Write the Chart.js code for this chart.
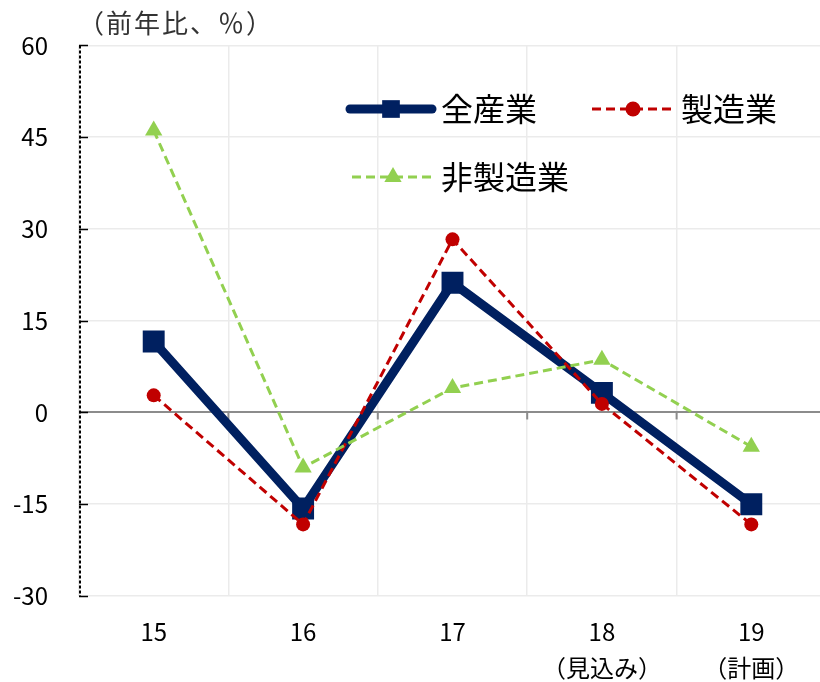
<!DOCTYPE html>
<html lang="ja">
<head>
<meta charset="utf-8">
<script src="https://cdn.jsdelivr.net/npm/chart.js@4.4.1/dist/chart.umd.min.js"></script>
<style>
  html, body { margin: 0; padding: 0; background: #fff; overflow: hidden; }
  canvas { display: block; }
</style>
</head>
<body>
<canvas id="chart" width="830" height="682"></canvas>
<script>
// data
const years = [['15'], ['16'], ['17'], ['18', '（見込み）'], ['19', '（計画）']];
const seriesNames = ['全産業', '製造業', '非製造業'];
const allIndustry = [11.6, -15.7, 21.2, 3.2, -15.0];
const manufacturing = [2.8, -18.3, 28.3, 1.4, -18.3];
const nonManufacturing = [46.1, -9.0, 4.0, 8.6, -5.6];
const yTicks = [-30, -15, 0, 15, 30, 45, 60];
const unitLabel = '（前年比、％）';

const FONT = '"Noto Sans CJK JP", "Noto Sans", sans-serif';
Chart.defaults.font.family = FONT;
Chart.defaults.color = '#000';

// where each legend entry sits (line start, row y, text x, marker radius)
const legendLayout = [
    { x: 350, y: 109, textX: 441, r: 12.5 },
    { x: 592, y: 109, textX: 681, r: 7.5 },
    { x: 352, y: 177, textX: 441, r: 10 }
];

const extras = {
    id: 'extras',
    beforeDatasetsDraw(chart) {
        const ctx = chart.ctx;
        const a = chart.chartArea;
        const x = chart.scales.x, y = chart.scales.y;
        ctx.save();
        // dashed y axis line
        ctx.strokeStyle = '#000';
        ctx.lineWidth = 2;
        ctx.setLineDash([3, 2]);
        ctx.beginPath();
        ctx.moveTo(a.left + 1, a.top);
        ctx.lineTo(a.left + 1, a.bottom);
        ctx.stroke();
        ctx.setLineDash([]);

        // inside tick marks on the y axis
        ctx.lineWidth = 1.5;
        y.ticks.forEach(function (t) {
            const py = Math.round(y.getPixelForValue(t.value)) + 0.5;
            ctx.beginPath();
            ctx.moveTo(a.left, py);
            ctx.lineTo(a.left + 9, py);
            ctx.stroke();
        });

        // small ticks hanging from the zero line
        const y0 = y.getPixelForValue(0);
        ctx.strokeStyle = '#8c8c8c';
        ctx.lineWidth = 2;
        for (let i = 1; i < x.ticks.length; i++) {
            const px = (x.getPixelForTick(i - 1) + x.getPixelForTick(i)) / 2;
            ctx.beginPath();
            ctx.moveTo(px, y0);
            ctx.lineTo(px, y0 + 7);
            ctx.stroke();
        }
        ctx.restore();
    },
    afterDraw(chart) {
        const ctx = chart.ctx;
        ctx.save();

        // unit label
        ctx.font = '26px ' + FONT;
        ctx.fillStyle = '#333';
        ctx.textAlign = 'left';
        ctx.textBaseline = 'middle';
        ctx.letterSpacing = '2px';
        ctx.fillText(unitLabel, 78, 23);
        ctx.letterSpacing = '0px';

        // legend: line sample + marker + name
        chart.data.datasets.forEach(function (ds, i) {
            const L = legendLayout[i];
            ctx.strokeStyle = ds.borderColor;
            ctx.lineWidth = ds.borderWidth;
            ctx.lineCap = ds.borderDash ? 'butt' : 'round';
            ctx.setLineDash(ds.borderDash || []);
            ctx.beginPath();
            ctx.moveTo(L.x, L.y);
            ctx.lineTo(L.x + 82, L.y);
            ctx.stroke();
            ctx.setLineDash([]);
            ctx.fillStyle = ds.pointBackgroundColor;
            Chart.helpers.drawPoint(ctx, { pointStyle: ds.pointStyle, radius: L.r, rotation: 0, borderWidth: 0 }, L.x + 41, L.y);
            ctx.fillStyle = '#000';
            ctx.font = '32px ' + FONT;
            ctx.fillText(ds.label, L.textX, L.y);
        });
        ctx.restore();
    }
};

const chart = new Chart(document.getElementById('chart'), {
    type: 'line',
    data: {
        labels: years,
        datasets: [
            {
                label: seriesNames[0],
                data: allIndustry,
                borderColor: '#002060',
                borderWidth: 9,
                pointStyle: 'rect',
                pointRadius: 15.5,
                pointBackgroundColor: '#002060',
                pointBorderWidth: 0,
                tension: 0,
                order: 3
            },
            {
                label: seriesNames[1],
                data: manufacturing,
                borderColor: '#C00000',
                borderWidth: 3,
                borderDash: [9, 5],
                pointStyle: 'circle',
                pointRadius: 7,
                pointBackgroundColor: '#C00000',
                pointBorderWidth: 0,
                tension: 0,
                order: 2
            },
            {
                label: seriesNames[2],
                data: nonManufacturing,
                borderColor: '#92D050',
                borderWidth: 3,
                borderDash: [9, 5],
                pointStyle: 'triangle',
                pointRadius: 10,
                pointBackgroundColor: '#92D050',
                pointBorderWidth: 0,
                tension: 0,
                order: 1
            }
        ]
    },
    options: {
        responsive: false,
        animation: false,
        devicePixelRatio: 1,
        layout: { autoPadding: false, padding: { top: 44, right: 4, left: 0, bottom: 0 } },
        plugins: {
            legend: { display: false },
            tooltip: { enabled: false }
        },
        scales: {
            x: {
                offset: true,
                grid: { offset: true, color: '#ebebeb', lineWidth: 1.5, drawTicks: false },
                border: { display: false },
                ticks: { font: { size: 24, lineHeight: 1.5 }, padding: 18, color: '#000' },
                afterFit: function (s) {
                    s.height = 86;
                    s.paddingLeft = 0;
                    s.paddingRight = 0;
                }
            },
            y: {
                min: -30,
                max: 60,
                afterBuildTicks: function (s) { s.ticks = yTicks.map(v => ({ value: v })); },
                grid: {
                    drawTicks: false,
                    color: ctx => ctx.tick && ctx.tick.value === 0 ? '#8c8c8c' : '#ebebeb',
                    lineWidth: ctx => ctx.tick && ctx.tick.value === 0 ? 2 : 1.5
                },
                border: { display: false },
                ticks: { font: { size: 24 }, padding: 31, color: '#000' },
                afterFit: function (s) { s.width = 79; }
            }
        }
    },
    plugins: [extras]
});
</script>
</body>
</html>
